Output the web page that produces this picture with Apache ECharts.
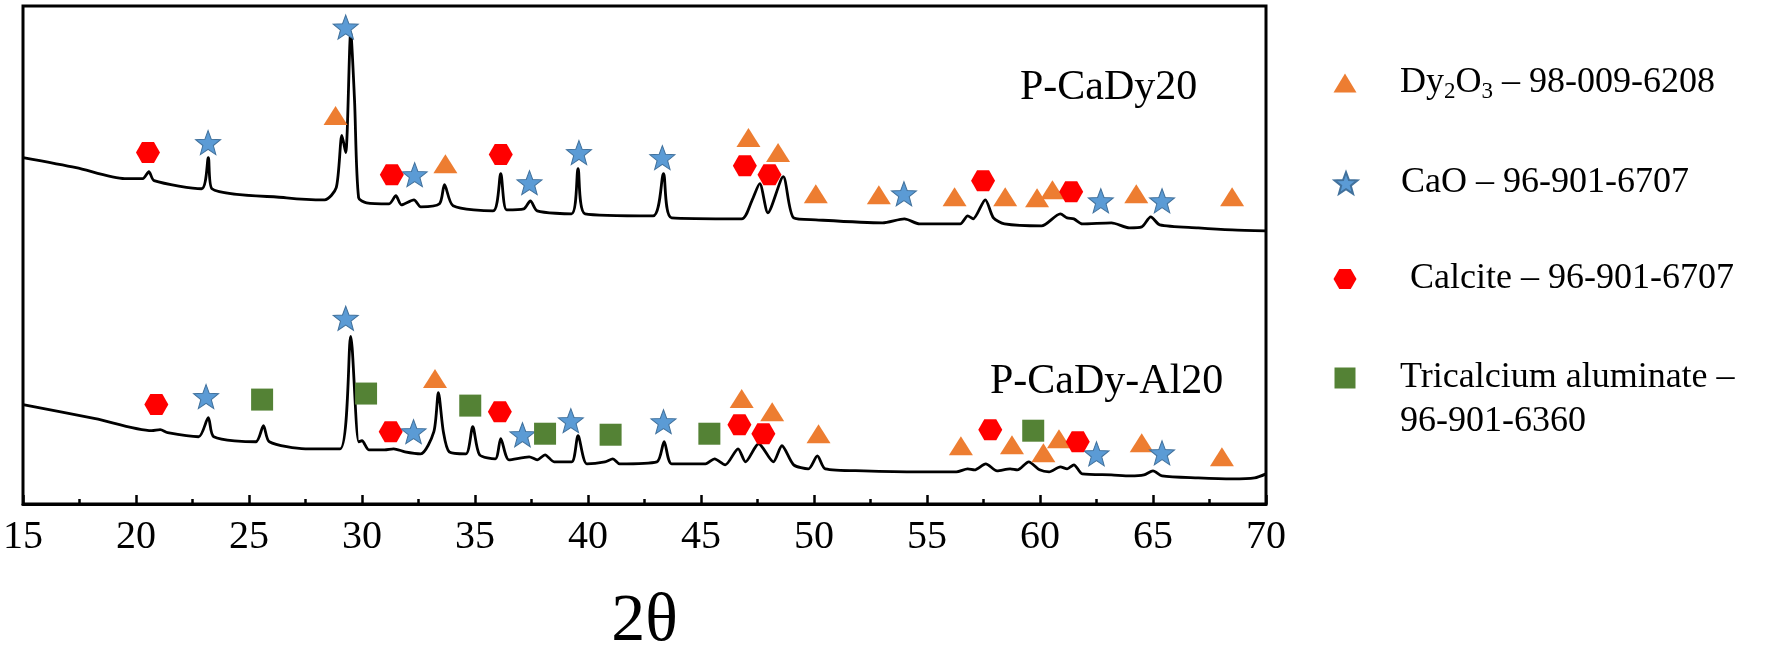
<!DOCTYPE html>
<html>
<head>
<meta charset="utf-8">
<title>XRD P-CaDy20 / P-CaDy-Al20</title>
<script src="https://cdn.jsdelivr.net/npm/echarts@6/dist/echarts.min.js"></script>
<style>
  html, body { margin: 0; padding: 0; background: #fff; }
  #echart_xrd { width: 1770px; height: 661px; }
</style>
</head>
<body>
<div id="echart_xrd"></div>
<script>
// x axis (2θ)
var xMin = 15
var xMax = 70
var xStep = 5

// P-CaDy20 trace (intensity in a.u.)
var upperTheta = [15, 17.35, 19.5, 20.3, 20.57, 20.8, 22.9, 23.2, 23.36, 26.66,
  28.35, 28.86, 29.11, 29.28, 29.5, 29.67, 29.85, 30.2, 31.2, 31.5,
  31.74, 32.3, 32.6, 33.43, 33.65, 34.03, 35.8, 36.14, 36.4, 37.16,
  37.45, 37.75, 39.27, 39.56, 39.87, 42.88, 43.34, 43.7, 46.8, 47.25,
  47.6, 47.96, 48.64, 49.1, 50.08, 53.03, 54.0, 54.67, 56.47, 56.8,
  57.04, 57.58, 57.94, 58.43, 60.07, 60.9, 61.2, 61.5, 61.87, 63.16,
  63.96, 64.5, 64.9, 65.3, 67, 68.5, 70]
var upperCounts = [345, 335, 324, 324, 331, 322, 314, 345, 314, 305,
  303, 315, 367, 350, 470, 402, 305, 300, 299, 307,
  298, 303, 296, 299, 318, 297, 292, 329, 293, 294,
  302, 292, 289, 334, 289, 287, 329, 285, 284, 302,
  319, 290, 326, 285, 283, 280, 284, 279, 279, 287,
  284, 303, 285, 279, 277, 289, 285, 284, 279, 280,
  275, 276, 286, 278, 275, 273, 272]

// P-CaDy-Al20 trace
var lowerTheta = [15, 18.2, 20.7, 21.07, 21.4, 22.77, 23.2, 23.44, 25.3, 25.64,
  25.9, 27.5, 29.03, 29.5, 29.85, 30.0, 30.3, 31.0, 31.4, 31.9,
  32.6, 33.18, 33.38, 33.6, 33.86, 34.6, 34.9, 35.2, 35.9, 36.14,
  36.5, 37.4, 37.75, 38.1, 38.5, 39.28, 39.56, 39.95, 40.75, 41.1,
  41.4, 43.05, 43.37, 43.7, 45.2, 45.6, 46.07, 46.64, 46.97, 47.55,
  48.2, 48.58, 49.1, 49.75, 50.15, 50.5, 52.2, 54.67, 56.3, 56.8,
  57.1, 57.6, 58.1, 58.68, 59.0, 59.5, 59.98, 60.4, 60.9, 61.2,
  61.5, 61.87, 63.16, 64, 64.6, 65.0, 65.4, 67, 68.5, 69.5, 70]
var lowerCounts = [99, 85, 73, 74, 71, 67, 86, 67, 62, 78,
  62, 55, 55, 167, 62, 63, 54, 54, 55, 52,
  50, 72, 111, 72, 52, 50, 77, 49, 45, 65,
  44, 47, 44, 49, 42, 42, 68, 40, 42, 45,
  40, 42, 62, 40, 40, 45, 39, 55, 42, 60,
  42, 58, 39, 35, 48, 35, 33, 32, 32, 35,
  34, 40, 33, 35, 34, 42, 34, 32, 37, 35,
  39, 30, 29, 28, 29, 33, 28, 26, 25, 26, 30]

// phase markers [2θ, height]
var dyUpper = [[28.83, 387], [33.69, 339], [47.1, 365], [48.41, 350], [50.08, 309], [52.87, 308],
  [56.22, 306], [58.46, 306], [59.87, 305], [60.55, 313], [64.26, 309], [68.5, 306]]
var caoUpper = [[23.19, 360], [29.28, 475], [32.33, 328], [37.41, 320], [39.6, 350], [43.29, 345],
  [53.98, 309], [62.69, 302], [65.4, 302]]
var calciteUpper = [[20.53, 350], [31.32, 328], [36.14, 348], [46.94, 337], [48.03, 328],
  [57.48, 322], [61.38, 311]]

var dyLower = [[33.23, 125], [46.8, 105], [48.15, 92], [50.2, 70], [56.5, 58], [58.76, 59],
  [60.15, 51], [60.84, 65], [64.5, 61], [68.05, 47]]
var caoLower = [[23.1, 107], [29.28, 185], [32.28, 72], [37.1, 69], [39.24, 83], [43.34, 82],
  [62.5, 50], [65.4, 51]]
var calciteLower = [[20.9, 99], [31.27, 72], [36.1, 92], [46.7, 79], [47.76, 70], [57.8, 74],
  [61.67, 62]]
var c3aLower = [[25.58, 104], [30.18, 110], [34.79, 98], [38.1, 70], [41.0, 69], [45.37, 70],
  [59.7, 73]]

var sampleLabels = ['P-CaDy20', 'P-CaDy-Al20']
var phaseNames = ['Dy2O3', 'CaO', 'Calcite', 'Tricalcium aluminate']

;(function () {
  var FONT = '"Liberation Serif", "Times New Roman", serif'
  var STAR = 'path://M50,0 L62.3,33 L97.6,34.5 L70,56.5 L79.4,90.5 L50,71 L20.6,90.5 L30,56.5 L2.4,34.5 L37.7,33 Z'
  var HEX = 'path://M0,8.66 L5,0 L15,0 L20,8.66 L15,17.32 L5,17.32 Z'

  var pairs = function (xs, ys) {
    return xs.map(function (x, i) { return [x, ys[i]] })
  }

  var trace = function (name, data) {
    return {
      name: name,
      type: 'line',
      data: data,
      showSymbol: false,
      symbol: 'none',
      smooth: 0.25,
      z: 2,
      lineStyle: { color: '#000', width: 2.8 },
      silent: true
    }
  }

  // marker series, one per phase and sample
  var marks = function (name, data, symbol, size, color, border) {
    return {
      name: name,
      type: 'scatter',
      data: data,
      symbol: symbol,
      symbolSize: size,
      z: 5,
      itemStyle: {
        color: color,
        borderColor: border || color,
        borderWidth: border ? 1 : 0,
        opacity: 1
      }
    }
  }

  // one legend block per phase, icon centre at (iconX, rowY)
  var iconX = 1345
  var textX = 1400
  var oneLegend = function (name, icon, w, h, rowY, text, opts) {
    opts = opts || {}
    var lh = opts.lineHeight || 40
    var lines = opts.lines || 1
    var padTop = lines > 1 ? lh : 0
    var blockH = lh * lines + padTop
    var padLeft = textX - (iconX - w / 2) - w - 5 + (opts.indent || 0)
    return {
      data: [{ name: name, icon: icon }],
      left: iconX - w / 2,
      top: rowY - blockH / 2,
      padding: 0,
      itemWidth: w,
      itemHeight: h,
      selectedMode: false,
      formatter: function () { return text },
      textStyle: {
        color: '#000',
        fontFamily: FONT,
        fontSize: 36,
        lineHeight: lh,
        padding: [padTop, 0, 0, padLeft],
        rich: {
          n: { color: '#000', fontFamily: FONT, fontSize: 36, lineHeight: lh },
          s: { color: '#000', fontFamily: FONT, fontSize: 23, lineHeight: 14, verticalAlign: 'bottom' }
        }
      }
    }
  }

  var renderChart = function () {
    var myChart = echarts.getInstanceByDom(document.getElementById('echart_xrd')) ||
      echarts.init(document.getElementById('echart_xrd'))

    var option = {
      animation: false,
      backgroundColor: '#fff',
      grid: {
        left: 23,
        right: 504,
        top: 6,
        bottom: 156,
        show: true,
        borderColor: '#000',
        borderWidth: 3
      },
      xAxis: {
        type: 'value',
        min: xMin,
        max: xMax,
        interval: xStep,
        name: '2θ',
        nameLocation: 'middle',
        nameGap: 84,
        nameTextStyle: { color: '#000', fontFamily: FONT, fontSize: 68 },
        axisLine: { lineStyle: { color: '#000', width: 3 } },
        axisTick: { inside: true, length: 9, lineStyle: { color: '#000', width: 2.5 } },
        minorTick: { show: true, splitNumber: 2, length: 5, lineStyle: { color: '#000', width: 2.5 } },
        splitLine: { show: false },
        axisLabel: { color: '#000', fontFamily: FONT, fontSize: 40, margin: 13 }
      },
      yAxis: {
        type: 'value',
        min: 0,
        max: 496,
        show: false
      },
      legend: [
        oneLegend(phaseNames[0], 'triangle', 23, 19, 83, '{n|Dy}{s|2}{n|O}{s|3}{n| – 98-009-6208}'),
        oneLegend(phaseNames[1], STAR, 23, 22, 183, 'CaO – 96-901-6707'),
        oneLegend(phaseNames[2], HEX, 23, 20, 279, 'Calcite – 96-901-6707', { indent: 10 }),
        oneLegend(phaseNames[3], 'rect', 21, 21, 378, 'Tricalcium aluminate –\n96-901-6360',
          { lineHeight: 44, lines: 2 })
      ],
      graphic: [
        { type: 'text', x: 1020, y: 88, style: { text: sampleLabels[0], fill: '#000', font: '42px ' + FONT, verticalAlign: 'middle' } },
        { type: 'text', x: 990, y: 382, style: { text: sampleLabels[1], fill: '#000', font: '42px ' + FONT, verticalAlign: 'middle' } }
      ],
      series: [
        trace(sampleLabels[0], pairs(upperTheta, upperCounts)),
        trace(sampleLabels[1], pairs(lowerTheta, lowerCounts)),
        marks(phaseNames[0], dyUpper, 'triangle', [24, 19], '#ED7D31'),
        marks(phaseNames[0], dyLower, 'triangle', [24, 19], '#ED7D31'),
        marks(phaseNames[1], caoUpper, STAR, [25, 24], '#5B9BD5', '#41719C'),
        marks(phaseNames[1], caoLower, STAR, [25, 24], '#5B9BD5', '#41719C'),
        marks(phaseNames[2], calciteUpper, HEX, [24, 21], '#FF0000'),
        marks(phaseNames[2], calciteLower, HEX, [24, 21], '#FF0000'),
        marks(phaseNames[3], c3aLower, 'rect', [22, 22], '#548235')
      ]
    }

    myChart.setOption(option, true)
    myChart.resize()
  }

  window.addEventListener('resize', renderChart, false)
  renderChart()
})()
</script>
</body>
</html>
